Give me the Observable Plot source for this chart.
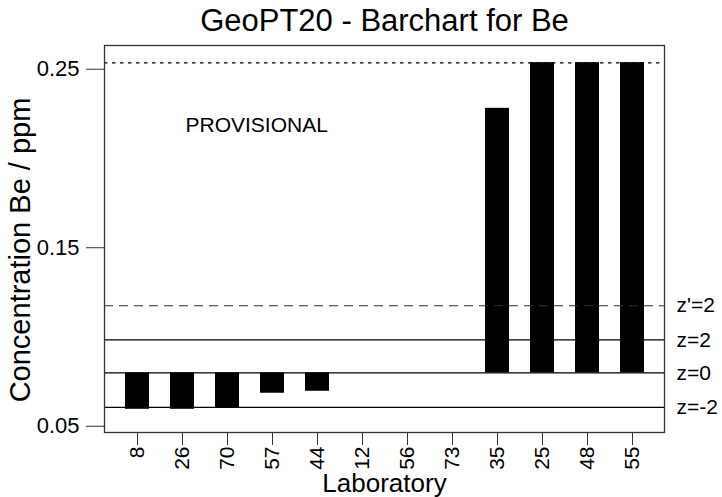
<!DOCTYPE html>
<html><head><meta charset="utf-8">
<script src="https://cdn.jsdelivr.net/npm/d3@7"></script>
<script src="https://cdn.jsdelivr.net/npm/@observablehq/plot@0.6"></script>
<style>body{margin:0;background:#fff}</style>
</head><body><div id="chart"></div>
<script>
const labs = ["8","26","70","57","44","12","56","73","35","25","48","55"];
const values = [0.0595,0.0595,0.0603,0.0685,0.0696,null,null,null,0.2281,0.2537,0.2537,0.2537];
const assigned = 0.0799;
const zLabels = ["z'=2","z=2","z=0","z=-2"];
const zValues = [0.1175,0.0984,0.0799,0.0606];
const zDashed = [true,false,false,false];
const upperLimit = 0.2536;
const yTicks = [0.05,0.15,0.25];
const title = "GeoPT20 - Barchart for Be";
const yLabel = "Concentration Be / ppm";
const xLabel = "Laboratory";
const note = "PROVISIONAL";

const bars = labs.map((lab,i)=>({lab, value: values[i]})).filter(d=>d.value!=null);
const zlines = zLabels.map((label,i)=>({label, value: zValues[i], dashed: zDashed[i]}));
const font = "'Liberation Sans', Arial, Helvetica, sans-serif";

const chart = Plot.plot({
  width: 722, height: 497,
  marginLeft: 104, marginRight: 58, marginTop: 45, marginBottom: 65,
  style: {fontFamily: font, background: "#fff", color: "#000"},
  x: {type: "band", domain: labs, paddingInner: 0.47, paddingOuter: 0.45},
  y: {domain: [0.0465, 0.2633]},
  marks: [
    Plot.barY(bars, {x: "lab", y1: assigned, y2: "value", fill: "#000"}),
    Plot.ruleY(zlines.filter(d=>!d.dashed), {y: "value", stroke: "#000", strokeWidth: 1.2}),
    Plot.ruleY(zlines.filter(d=>d.dashed), {y: "value", stroke: "#333", strokeWidth: 1.2, strokeDasharray: "9,6"}),
    Plot.ruleY([upperLimit], {stroke: "#000", strokeWidth: 1.2, strokeDasharray: "3.5,4.5"}),
    Plot.text(zlines, {y: "value", text: "label", frameAnchor: "right", dx: 12, textAnchor: "start", fontSize: 21, fill: "#000"}),
    Plot.frame({stroke: "#333", strokeWidth: 1.3}),
    Plot.axisY({ticks: yTicks, tickFormat: ".2f", tickSize: 18, tickPadding: 7, fontSize: 22, label: null, stroke: "#333"}),
    Plot.axisX({tickRotate: -90, tickSize: 13, tickPadding: 1, fontSize: 21, label: null, stroke: "#333"}),
    Plot.text([title], {frameAnchor: "top", dy: -15, lineAnchor: "bottom", fontSize: 31, fill: "#000"}),
    Plot.text([yLabel], {frameAnchor: "left", dx: -84, dy: 11, rotate: -90, textAnchor: "middle", fontSize: 29, fill: "#000"}),
    Plot.text([xLabel], {frameAnchor: "bottom", dy: 59, lineAnchor: "bottom", fontSize: 26, fill: "#000"}),
    Plot.text([note], {frameAnchor: "top-left", dx: 81, dy: 86, lineAnchor: "bottom", textAnchor: "start", fontSize: 21, fill: "#000"})
  ]
});
document.getElementById("chart").appendChild(chart);
</script>
</body></html>
